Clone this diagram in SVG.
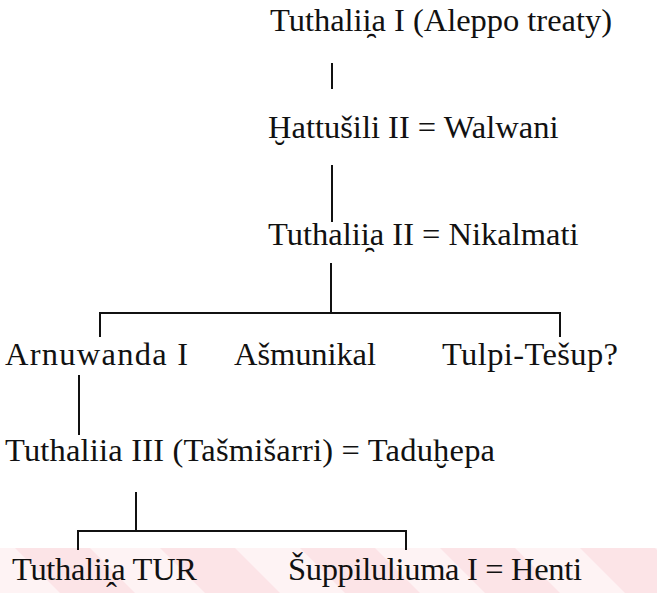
<svg xmlns="http://www.w3.org/2000/svg" width="657" height="593" viewBox="0 0 657 593">
<style>
text{font-family:"Liberation Serif","DejaVu Serif",serif;font-size:32.5px;fill:#111}
.c{stroke:#111;stroke-width:2;fill:none}
.wm{fill:#fce4e7}
</style>
<rect width="657" height="593" fill="#fff"/>
<g id="watermark">
<rect x="0" y="548" width="657" height="45" fill="#fef3f4"/>
<polygon class="wm" points="15,548 90,548 135,593 60,593"/>
<polygon class="wm" points="160,548 235,548 280,593 205,593"/>
<polygon class="wm" points="300,548 375,548 420,593 345,593"/>
<polygon class="wm" points="440,548 515,548 560,593 485,593"/>
<polygon class="wm" points="580,548 655,548 700,593 625,593"/>
</g>
<g id="connectors">
<line class="c" x1="332" y1="63" x2="332" y2="89"/>
<line class="c" x1="332" y1="165" x2="332" y2="222"/>
<polyline class="c" points="100,337 100,313 560,313 560,337"/>
<line class="c" x1="331" y1="263" x2="331" y2="313"/>
<line class="c" x1="79" y1="375" x2="79" y2="435"/>
<line class="c" x1="136" y1="492" x2="136" y2="531"/>
<polyline class="c" points="78,550 78,531 406,531 406,550"/>
</g>
<g id="n1"><text x="270" y="31" textLength="342">Tuthalii̯a I (Aleppo treaty)</text></g>
<g id="n2"><text x="268" y="138">Ḫattušili II = Walwani</text></g>
<g id="n3"><text x="268" y="245">Tuthalii̯a II = Nikalmati</text></g>
<g id="n4"><text x="5" y="365" textLength="183">Arnuwanda I</text></g>
<g id="n5"><text x="234" y="365" textLength="142">Ašmunikal</text></g>
<g id="n6"><text x="442" y="365" textLength="176">Tulpi-Tešup?</text></g>
<g id="n7"><text x="5" y="461" textLength="490">Tuthaliia III (Tašmišarri) = Taduḫepa</text></g>
<g id="n8"><text x="12" y="580" textLength="185">Tuthalii̭a TUR</text></g>
<g id="n9"><text x="288" y="580" textLength="294">Šuppiluliuma I = Henti</text></g>
</svg>
